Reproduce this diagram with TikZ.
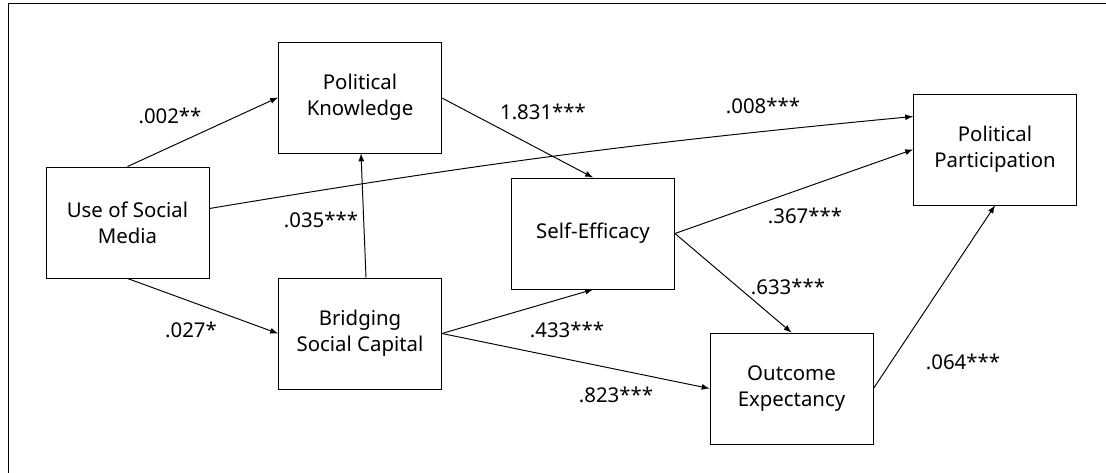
\documentclass[tikz,border=0pt]{standalone}
\usepackage{fontspec}
\setmainfont{Noto Sans}
\usetikzlibrary{calc}
\begin{document}
\begin{tikzpicture}[x=0.02cm, y=-0.02cm, line width=0.55pt,
    var/.style={draw, minimum width=3.26cm, minimum height=2.22cm, align=center, inner sep=2pt},
    path/.style={-latex},
    coef/.style={inner sep=1pt},
    font=\fontsize{11.6}{15}\selectfont]
        \useasboundingbox (0,0) rectangle (1106,473);
        \draw (1106,3) -- (8,3) -- (8,473);

        % variables
        \node[var] (usm) at (127.5,222.5) {Use of Social\\Media};
        \node[var] (pk) at (360,97.5) {Political\\Knowledge};
        \node[var] (bsc) at (360,333.5) {Bridging\\Social Capital};
        \node[var] (se) at (593,233.5) {Self-Efficacy};
        \node[var] (oe) at (791.5,388.5) {Outcome\\Expectancy};
        \node[var] (pp) at (995,149.5) {Political\\Participation};

        % paths
        \draw[path] (usm.north) -- (pk.west);
        \draw[path] (usm.south) -- (bsc.west);
        \draw[path] ($(usm.east)+(0,-14)$) to[bend left=2] ($(pp.west)+(0,-33)$);
        \draw[path] ($(bsc.north)+(6,0)$) -- ($(pk.south)+(1,0)$);
        \draw[path] ($(pk.east)+(0,0.5)$) -- (se.north);
        \draw[path] (bsc.east) -- (se.south);
        \draw[path] (bsc.east) -- (oe.west);
        \draw[path] (se.east) -- (pp.west);
        \draw[path] (se.east) -- (oe.north);
        \draw[path] (oe.east) -- (pp.south);

        % coefficients
        \node[coef] (c1) at (170,116) {.002**};
        \node[coef] (c2) at (191,330) {.027*};
        \node[coef] (c3) at (763,106) {.008***};
        \node[coef] (c4) at (321,220) {.035***};
        \node[coef] (c5) at (543,112) {1.831***};
        \node[coef] (c6) at (567,330) {.433***};
        \node[coef] (c7) at (616,395) {.823***};
        \node[coef] (c8) at (805,216) {.367***};
        \node[coef] (c9) at (788,287) {.633***};
        \node[coef] (c10) at (963,362) {.064***};
\end{tikzpicture}
\end{document}
